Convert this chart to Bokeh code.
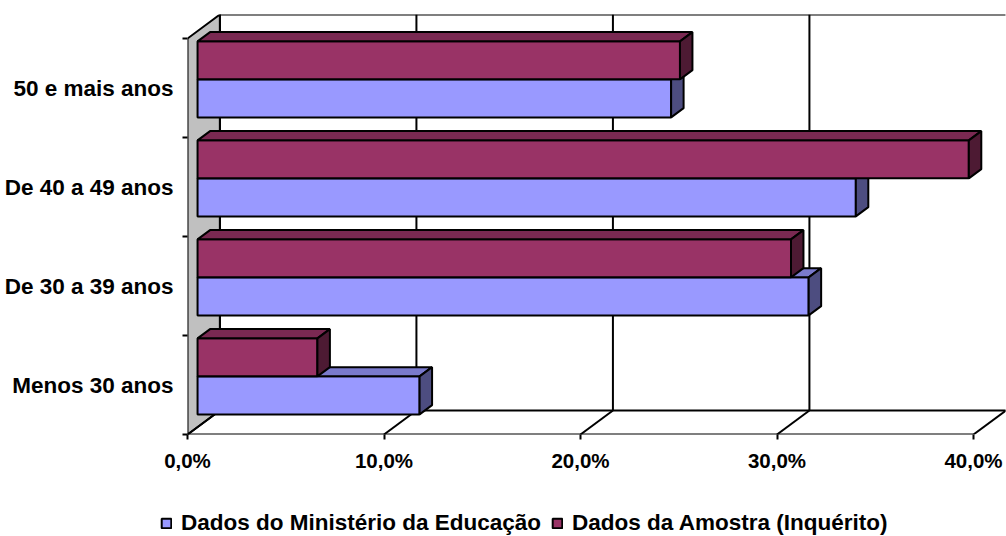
from bokeh.embed import file_html
from bokeh.resources import INLINE
from bokeh.plotting import figure
from bokeh.layouts import column
from bokeh.models import FixedTicker, Range1d, Legend, LegendItem

categories = ["Menos 30 anos", "De 30 a 39 anos", "De 40 a 49 anos", "50 e mais anos"]
ministerio = [11.3, 31.1, 33.5, 24.1]
amostra = [6.1, 30.2, 39.25, 24.55]
x_ticks = [0, 10, 20, 30, 40]
x_labels = ["0,0%", "10,0%", "20,0%", "30,0%", "40,0%"]
series_names = ["Dados do Ministério da Educação", "Dados da Amostra (Inquérito)"]

FONT = "Liberation Sans"
BLUE, PURPLE = "#9999ff", "#993366"
# oblique projection: depth z in [0, 1] shifts a point right and up
DX, DY = 1.65, 0.2424
Z0, Z1 = 0.31, 0.695
GAP, BAR_H = 0.128, 0.384


def proj(x, y, z):
    return x + DX * z, y + DY * z


W, H_MAIN, H_LEG = 1006, 475, 61
p = figure(width=W, height=H_MAIN, output_backend="svg", toolbar_location=None,
           min_border_left=187, min_border_right=1, min_border_top=14, min_border_bottom=41,
           x_range=Range1d(0, 818 / 19.65), y_range=Range1d(0, 420 / 99),
           background_fill_color="white", border_fill_color="white", outline_line_color=None)
p.frame_align = False
p.grid.visible = False

# left wall
wx = [0, DX, DX, 0]
wy = [0, DY, 4 + DY, 4]
p.patch(wx, wy, fill_color="#c0c0c0", line_color="black", line_width=2)

# back wall + floor grid
for t in x_ticks:
    bx, by = proj(t, 0, 1)
    _, ty = proj(t, 4, 1)
    p.line([t, bx], [0, by], line_color="black", line_width=2)
    if t < x_ticks[-1]:
        p.line([bx, bx], [by, ty], line_color="black", line_width=2)
p.line([DX, 40 + DX], [DY, DY], line_color="black", line_width=2)
p.line([DX, 40 + DX], [4 + DY, 4 + DY], line_color="black", line_width=2)
p.line([0, 40], [0, 0], line_color="black", line_width=2)


def box(v, y0, y1, front, top, side):
    xa, ya = proj(0, y0, Z0)
    xb, yb = proj(v, y1, Z0)
    xc, yc = proj(v, y1, Z1)
    xd, yd = proj(0, y1, Z1)
    xe, ye = proj(v, y0, Z1)
    p.patch([xa, xb, xb, xa], [ya, ya, yb, yb], fill_color=front, line_color="black", line_width=2)
    p.patch([xa, xd, xc, xb], [yb, yd, yc, yb], fill_color=top, line_color="black", line_width=2)
    p.patch([xb, xc, xe, xb], [yb, yc, ye, ya], fill_color=side, line_color="black", line_width=2)


for i in range(3, -1, -1):
    b0 = i + GAP
    box(ministerio[i], b0, b0 + BAR_H, BLUE, "#7a7acc", "#4d4d80")
    box(amostra[i], b0 + BAR_H, b0 + 2 * BAR_H, PURPLE, "#7a2952", "#4d1a33")

# axes
xa = p.xaxis[0]
xa.ticker = FixedTicker(ticks=x_ticks)
xa.major_label_overrides = dict(zip(x_ticks, x_labels))
xa.major_label_text_font = FONT
xa.major_label_text_font_style = "bold"
xa.major_label_text_font_size = "20.5px"
xa.major_label_text_color = "black"
xa.major_tick_in = 0
xa.major_tick_out = 5
xa.major_tick_line_width = 2
xa.minor_tick_line_color = None
xa.axis_line_color = None
xa.major_label_standoff = 9

ya = p.yaxis[0]
ya.ticker = FixedTicker(ticks=[i + 0.5 for i in range(4)], minor_ticks=[0, 1, 2, 3, 4])
ya.major_label_overrides = {i + 0.5: c for i, c in enumerate(categories)}
ya.major_label_text_font = FONT
ya.major_label_text_font_style = "bold"
ya.major_label_text_font_size = "22.5px"
ya.major_label_text_color = "black"
ya.major_tick_line_color = None
ya.major_tick_in = 0
ya.major_tick_out = 0
ya.minor_tick_in = 0
ya.minor_tick_out = 5
ya.minor_tick_line_width = 2
ya.axis_line_color = None
ya.major_label_standoff = 9

# legend strip
q = figure(width=W, height=H_LEG, output_backend="svg", toolbar_location=None,
           min_border=0, x_range=Range1d(0, 1), y_range=Range1d(0, 1),
           background_fill_color="white", border_fill_color="white", outline_line_color=None)
q.frame_align = False
q.grid.visible = False
q.axis.visible = False
r1 = q.quad(left=[-9], right=[-8], bottom=[-9], top=[-8], fill_color=BLUE, line_color="black", line_width=2)
r2 = q.quad(left=[-9], right=[-8], bottom=[-9], top=[-8], fill_color=PURPLE, line_color="black", line_width=2)
legend = Legend(items=[LegendItem(label=series_names[0], renderers=[r1]),
                       LegendItem(label=series_names[1], renderers=[r2])],
                orientation="horizontal", location=(160, 0), border_line_color=None,
                background_fill_alpha=0, glyph_width=12, glyph_height=12, spacing=10,
                label_standoff=9, padding=0, margin=0,
                label_text_font=FONT, label_text_font_style="bold", label_text_font_size="22.5px",
                label_text_color="black")
q.add_layout(legend, "center")

page = column(p, q, spacing=0)
open("out.html", "w").write(file_html(page, INLINE))
